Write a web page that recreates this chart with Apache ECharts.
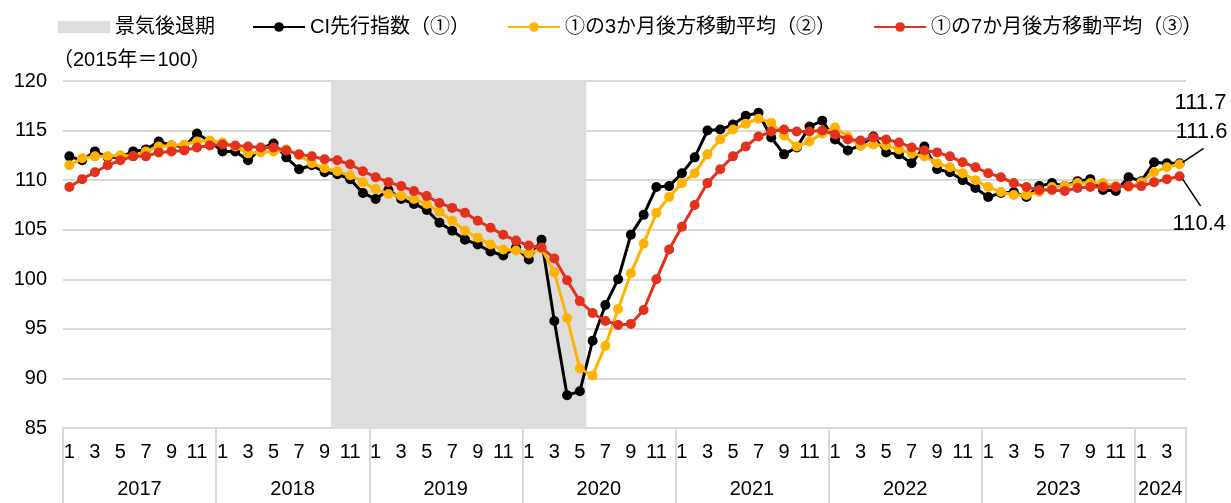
<!DOCTYPE html>
<html><head><meta charset="utf-8">
<script src="https://cdn.jsdelivr.net/npm/echarts@6/dist/echarts.min.js"></script>
<style>html,body{margin:0;padding:0;background:#fff}#c{width:1231px;height:503px}</style>
</head><body><div id="c"></div>
<script>
// ---- data ----
const years = [2017, 2018, 2019, 2020, 2021, 2022, 2023, 2024];
const monthsInYear = [12, 12, 12, 12, 12, 12, 12, 4];
const categories = [];
years.forEach((y, k) => { for (let m = 1; m <= monthsInYear[k]; m++) categories.push(y + '/' + m); });

const seriesNames = ['CI先行指数（①）', '①の3か月後方移動平均（②）', '①の7か月後方移動平均（③）'];
const recessionName = '景気後退期';
const recessionPeriod = ['2018/10', '2020/5'];

const ciLeading = [
  112.4,112.0,112.9,112.3,112.3,112.9,113.1,113.9,113.5,113.4,114.7,113.9,
  112.9,112.9,112.0,113.2,113.7,112.3,111.1,111.5,110.8,110.6,110.1,108.7,
  108.1,109.0,108.1,107.6,107.0,105.7,104.9,104.0,103.5,102.8,102.4,103.2,
  102.0,104.0,95.8,88.3,88.7,93.8,97.4,100.0,104.5,106.5,109.3,109.4,
  110.7,112.3,115.0,115.1,115.6,116.5,116.8,114.3,112.6,113.3,115.4,116.0,
  114.1,113.0,113.5,114.4,112.8,112.6,111.7,113.4,111.1,110.8,110.0,109.2,
  108.3,108.7,108.8,108.3,109.4,109.7,109.4,109.9,110.1,109.0,108.9,110.3,
  109.9,111.8,111.7,111.7
];
const ma3 = [
  111.5,112.2,112.4,112.4,112.5,112.4,112.9,113.4,113.5,113.6,113.9,114.0,
  113.8,113.4,112.7,112.8,112.9,113.1,112.5,111.7,111.2,110.9,110.5,109.8,
  109.1,108.6,108.4,108.1,107.6,106.8,105.9,104.9,104.2,103.5,103.0,102.9,
  102.6,103.1,100.7,96.1,91.0,90.3,93.3,97.0,100.6,103.6,106.7,108.3,
  109.7,110.7,112.6,114.1,115.1,115.7,116.2,115.8,114.5,113.4,113.9,114.7,
  115.3,114.4,113.5,113.6,113.5,113.1,112.7,112.4,111.7,111.3,110.7,110.0,
  109.3,108.8,108.5,108.5,108.8,109.3,109.4,109.7,109.7,109.7,109.4,109.3,
  109.8,110.8,111.3,111.6
];
const ma7 = [
  109.3,110.1,110.8,111.5,112.0,112.4,112.4,112.8,112.9,113.0,113.3,113.5,
  113.6,113.5,113.4,113.3,113.3,113.0,112.6,112.4,112.1,112.0,111.6,110.9,
  110.3,109.8,109.4,108.9,108.4,107.7,107.2,106.7,105.9,105.2,104.5,103.9,
  103.4,103.2,102.1,99.9,97.8,96.6,95.8,95.4,95.5,96.9,100.0,103.0,
  105.3,107.5,109.7,111.1,112.4,113.4,114.4,114.9,115.1,114.9,114.9,115.0,
  114.6,114.1,114.0,114.3,114.1,113.8,113.3,113.0,112.8,112.4,111.8,111.3,
  110.7,110.3,109.7,109.3,109.0,109.0,108.9,109.2,109.3,109.3,109.3,109.4,
  109.4,109.8,110.1,110.4
];
const yMin = 85, yMax = 120, yStep = 5;

// ---- chart ----
const FONT = '"Liberation Sans", Arial, "Noto Sans CJK JP", sans-serif';
const colors = ['#000000', '#FFB300', '#E2311D'];
const rs = categories.indexOf(recessionPeriod[0]);
const re = categories.indexOf(recessionPeriod[1]);
const last = categories.length - 1;
const seriesData = [ciLeading, ma3, ma7];

const chart = echarts.init(document.getElementById('c'), null, { renderer: 'canvas' });

const lineSeries = seriesData.map((d, k) => ({
  name: seriesNames[k],
  type: 'line',
  data: d,
  symbol: 'circle',
  symbolSize: 10,
  showSymbol: true,
  showAllSymbol: true,
  lineStyle: { color: colors[k], width: 3 },
  itemStyle: { color: colors[k] },
  z: 3 + k,
  silent: true,
  animation: false
}));

// end-of-series value labels, positioned from the data via the axis scales
const endLabelLayout = [
  { dx: -5, dy: -60, line: null },
  { dx: -4, dy: -32, line: [3, -2, 24, -16] },
  { dx: -7, dy: 48, line: [3, 3, 21, 30] }
];

const option = {
  animation: false,
  backgroundColor: '#ffffff',
  textStyle: { fontFamily: FONT },
  legend: {
    left: 53, top: 12,
    itemWidth: 52, itemHeight: 12, itemGap: 37,
    textStyle: { fontFamily: FONT, fontSize: 20, color: '#000' },
    data: [{ name: recessionName, icon: 'rect', itemStyle: { color: '#DDDDDD' } }].concat(seriesNames),
    selectedMode: false
  },
  grid: { left: 63, right: 45, top: 81, bottom: 75, containLabel: false },
  xAxis: [{
    type: 'category',
    data: categories,
    boundaryGap: true,
    axisLine: { show: true, lineStyle: { color: '#D9D9D9', width: 2 } },
    axisTick: { show: true, interval: (i) => i % 12 === 0, length: 76, lineStyle: { color: '#D9D9D9', width: 2 } },
    axisLabel: {
      interval: (i) => (i % 12) % 2 === 0,
      formatter: (v) => v.split('/')[1],
      fontFamily: FONT, fontSize: 20, color: '#000', margin: 14
    },
    splitLine: { show: false }
  }, {
    type: 'category',
    data: categories,
    position: 'bottom',
    boundaryGap: true,
    axisLine: { show: false },
    axisTick: { show: false },
    axisLabel: {
      interval: (i) => {
        const m = +categories[i].split('/')[1];
        const y = +categories[i].split('/')[0];
        const n = monthsInYear[years.indexOf(y)];
        return m === Math.floor(n / 2) + 1;
      },
      formatter: (v) => '{y|' + v.split('/')[0] + '}',
      margin: 51,
      rich: { y: { fontFamily: FONT, fontSize: 20, color: '#000', padding: [0, 13, 0, 0] } }
    },
    splitLine: { show: false }
  }],
  yAxis: {
    type: 'value',
    min: yMin, max: yMax, interval: yStep,
    name: '（2015年＝100）',
    nameLocation: 'end',
    nameGap: 11,
    nameTextStyle: { fontFamily: FONT, fontSize: 20, color: '#000', align: 'left', padding: [0, 0, 0, -10] },
    axisLine: { show: false },
    axisTick: { show: false },
    axisLabel: { fontFamily: FONT, fontSize: 20, color: '#000', margin: 16 },
    splitLine: { lineStyle: { color: '#D9D9D9', width: 2 } }
  },
  series: [{
    name: recessionName,
    type: 'custom',
    data: [[rs, re]],
    itemStyle: { color: '#DDDDDD' },
    silent: true,
    clip: true,
    z: 1,
    renderItem: (params, api) => {
      const a = api.coord([api.value(0), yMax]);
      const b = api.coord([api.value(1), yMin]);
      const w = api.size([1, 0])[0];
      return {
        type: 'rect',
        shape: { x: a[0] - w / 2, y: a[1], width: b[0] - a[0] + w, height: b[1] - a[1] },
        style: { fill: '#DDDDDD' }
      };
    }
  }].concat(lineSeries).concat([{
    name: 'endLabels',
    type: 'custom',
    data: seriesData.map((d, k) => [last, d[last], k]),
    clip: false,
    silent: true,
    z: 10,
    renderItem: (params, api) => {
      const p = api.coord([api.value(0), api.value(1)]);
      const k = api.value(2);
      const L = endLabelLayout[k];
      const children = [{
        type: 'text',
        style: {
          x: p[0] + L.dx, y: p[1] + L.dy,
          text: api.value(1).toFixed(1),
          fontFamily: FONT, fontSize: 22, fill: '#000',
          align: 'left', verticalAlign: 'middle'
        }
      }];
      if (L.line) {
        children.push({
          type: 'line',
          shape: { x1: p[0] + L.line[0], y1: p[1] + L.line[1], x2: p[0] + L.line[2], y2: p[1] + L.line[3] },
          style: { stroke: '#000', lineWidth: 1.5 }
        });
      }
      return { type: 'group', children };
    }
  }])
};
chart.setOption(option);
</script>
</body></html>
